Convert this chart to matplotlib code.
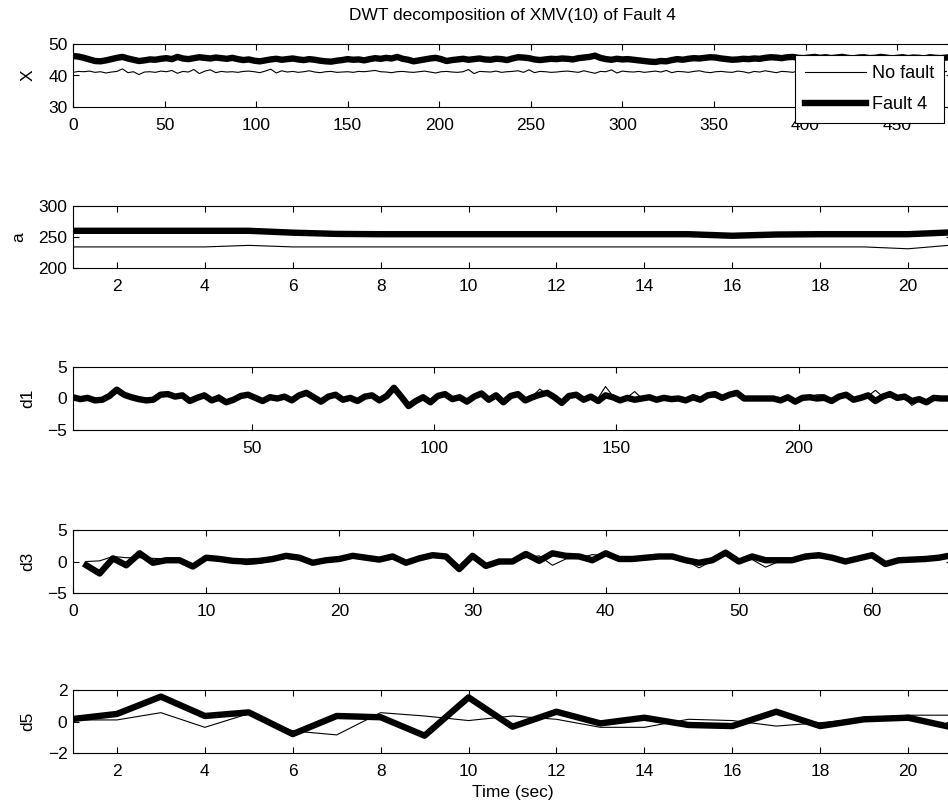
import numpy as np
import matplotlib
matplotlib.use("Agg")
import matplotlib.pyplot as plt

plt.rcParams['font.family'] = ['Liberation Sans', 'DejaVu Sans']
plt.rcParams['font.size'] = 12.5

# ---- signal X (sampled every 3 s) ----
x_nofault = [
    41.0, 41.3, 41.2, 41.4, 41.0, 41.2, 40.8, 41.1, 41.3, 42.1, 40.9, 41.2, 40.3, 41.1, 41.2, 41.0, 41.4, 41.2, 41.6, 40.7,
    41.3, 41.1, 41.9, 40.6, 41.4, 41.8, 40.9, 41.3, 41.1, 41.2, 41.0, 41.3, 41.4, 41.2, 40.9, 41.4, 42.0, 40.8, 41.5, 41.1,
    41.3, 41.0, 41.2, 41.5, 41.1, 40.9, 41.2, 41.3, 41.0, 41.1, 41.2, 41.0, 41.3, 41.2, 41.4, 41.6, 41.2, 41.1, 40.9, 41.2,
    41.3, 41.1, 41.0, 41.2, 41.4, 41.1, 40.8, 41.2, 41.3, 41.1, 41.0, 41.2, 41.9, 40.6, 41.3, 41.2, 41.1, 41.4, 41.0, 41.2,
    41.3, 41.5, 41.0, 41.8, 40.9, 41.3, 41.2, 41.0, 41.1, 41.3, 41.4, 41.2, 41.0, 41.5, 41.1, 40.7, 41.3, 41.2, 41.8, 40.8,
    41.4, 41.2, 41.1, 41.3, 41.0, 41.2, 41.4, 41.1, 41.6, 40.9, 41.3, 41.2, 41.0, 41.3, 41.5, 41.1, 40.9, 41.2, 41.3, 41.1,
    41.0, 41.4, 41.2, 40.8, 41.3, 41.1, 41.5, 41.2, 40.9, 41.3, 41.2, 41.0, 41.4, 41.1, 41.3, 41.2, 41.0, 41.3, 41.1, 41.2,
    41.4, 41.0, 41.2, 41.3, 41.1, 40.9, 41.3, 41.2, 41.0, 41.4, 41.2, 41.1, 41.3, 41.0, 41.2, 41.4, 41.1, 41.2, 41.0, 41.3,
]
x_fault = [
    46.2, 46.0, 45.6, 45.1, 44.6, 44.5, 44.8, 45.2, 45.6, 45.9, 45.4, 45.0, 44.6, 44.8, 45.1, 45.0, 45.3, 45.5, 45.2, 45.9,
    45.4, 45.2, 45.5, 45.8, 45.6, 45.4, 45.7, 45.5, 45.3, 45.6, 45.2, 44.9, 45.1, 44.7, 44.5, 44.8, 45.1, 45.3, 45.0, 45.2,
    45.4, 45.1, 44.9, 45.2, 45.0, 44.7, 44.5, 44.4, 44.7, 44.9, 45.2, 45.0, 45.1, 44.8, 45.2, 45.5, 45.3, 45.6, 45.4, 45.9,
    45.3, 45.0, 44.5, 44.8, 45.1, 45.4, 45.6, 45.2, 44.6, 44.9, 45.1, 45.3, 45.0, 45.2, 45.4, 45.1, 45.0, 45.3, 45.2, 44.9,
    45.4, 45.8, 45.7, 45.5, 45.1, 44.9, 45.1, 45.3, 45.2, 45.4, 45.3, 45.1, 45.5, 45.7, 45.9, 46.3, 45.6, 45.2, 45.0, 45.3,
    45.1, 45.2, 45.0, 44.8, 44.6, 44.4, 44.3, 44.6, 44.5, 44.9, 45.2, 45.0, 45.3, 45.5, 45.4, 45.6, 45.8, 45.7, 45.4, 45.2,
    45.0, 45.1, 45.3, 45.2, 45.4, 45.3, 45.6, 45.8, 45.7, 45.5, 45.8, 45.9, 45.6, 45.5, 45.7, 45.9, 45.6, 45.8, 45.5, 45.7,
    45.9, 45.6, 45.4, 45.7, 45.8, 45.5, 45.6, 45.9, 45.7, 45.4, 45.6, 45.8, 45.5, 45.7, 45.6, 45.4, 45.8, 45.6, 45.5, 45.7,
]

# ---- approximation a (level 5) ----
a_nofault = [234, 234, 234, 234, 236.5, 234, 234, 234, 234, 234, 234,
             234, 234, 234, 234, 234, 234, 234, 234, 231, 237]
a_fault = [260, 260, 260, 260, 260, 257, 255, 254.5, 254.5, 254.5, 254.5,
           254.5, 254.5, 254.5, 254.5, 252, 254, 254.5, 254.5, 254.5, 257.5]

# ---- detail d1 (every other coefficient) ----
d1_nofault = [
    0.1, 0.0, -0.2, 0.1, -0.1, 0.3, 0.9, 0.4, -0.1, -0.3, -0.6, -0.2, 0.3, 0.8, 0.4, 0.2, -0.1, 0.2, 0.1, 0.0,
    0.6, -0.2, 0.1, 0.2, 0.6, 0.0, -0.2, 0.6, 0.1, -0.1, 0.2, 0.3, 0.5, 0.0, -0.3, 0.2, 0.4, 0.1, -0.2, -0.3,
    0.2, 0.3, -0.2, 0.3, 1.3, 0.4, -0.8, -0.2, 0.1, -0.3, 0.2, 0.5, 0.1, 0.3, -0.2, 0.2, 0.4, 0.0, 0.2, -0.3,
    0.2, 0.5, -0.1, 0.4, 1.5, 0.6, 0.3, -0.3, 0.2, 0.4, 0.0, 0.3, 0.1, 1.9, 0.4, -0.1, 0.2, 1.1, 0.0, -0.1,
    0.0, 0.1, -0.2, 0.1, 0.0, 0.6, 0.2, 0.3, 0.2, -0.2, 0.3, 0.5, 0.1, -0.1, 0.0, 0.1, -0.1, 0.0, 0.1, -0.2,
    0.5, 0.3, 0.6, 0.6, -0.1, 0.2, 0.3, 0.1, 0.0, 0.4, 1.3, 0.3, 0.2, 0.4, 0.1, -1.1, -0.4, -0.3, 0.2, 0.1,
    0.0,
]
d1_fault = [
    0.2, -0.1, 0.1, -0.3, -0.2, 0.4, 1.4, 0.6, 0.2, -0.1, -0.3, -0.2, 0.6, 0.7, 0.3, 0.5, -0.4, 0.1, 0.5, -0.3,
    0.1, -0.6, -0.2, 0.4, 0.6, 0.1, -0.4, 0.2, 0.0, 0.3, -0.3, 0.5, 0.9, 0.2, -0.5, 0.3, 0.6, -0.2, 0.1, -0.4,
    0.3, 0.5, -0.3, 0.4, 1.7, 0.3, -1.2, -0.4, 0.2, -0.6, 0.4, 0.7, -0.1, 0.2, -0.5, 0.3, 0.8, -0.2, 0.5, -0.6,
    0.4, 0.7, -0.3, 0.2, 0.6, 0.9, 0.2, -0.7, 0.4, 0.6, -0.2, 0.3, -0.4, 0.5, 0.2, -0.3, 0.1, -0.2, 0.0, 0.2,
    -0.2, 0.1, -0.1, 0.0, -0.3, 0.2, -0.2, 0.5, 0.7, 0.1, 0.6, 0.9, 0.0, 0.0, 0.0, 0.0, 0.0, -0.3, 0.2, -0.5,
    0.1, 0.2, 0.0, 0.1, -0.4, 0.3, 0.6, -0.2, 0.1, 0.5, -0.4, 0.3, 0.7, 0.1, 0.3, -0.4, -0.1, -0.6, 0.1, 0.0,
    0.0,
]

# ---- detail d3 ----
d3_nofault = [
    0.0, 0.1, 0.8, 0.6, 0.6, 0.5, 0.4, 0.3, -0.5, 0.4,
    0.3, 0.0, -0.5, -0.3, 0.2, 0.5, 0.3, -0.2, 0.2, 0.4,
    0.7, 0.5, 0.3, 0.5, -0.1, 0.4, 0.7, 0.5, -0.8, 0.6,
    -0.4, 0.1, 0.0, 0.6, 0.9, -0.6, 0.4, 0.5, 1.1, 0.9,
    0.3, 0.2, 0.4, 0.5, 0.6, 0.2, -1.0, 0.1, 1.0, 0.1,
    0.3, -0.9, 0.0, 0.1, 0.4, 0.6, 0.5, 0.0, 0.3, 0.8,
    -0.6, 0.1, 0.2, 0.3, 0.4, 0.6,
]
d3_fault = [
    -0.6, -1.9, 0.5, -0.6, 1.3, -0.2, 0.2, 0.2, -0.8, 0.6,
    0.4, 0.1, 0.0, 0.1, 0.4, 0.9, 0.6, -0.2, 0.2, 0.4,
    0.9, 0.6, 0.3, 0.8, -0.2, 0.5, 1.0, 0.8, -1.2, 0.9,
    -0.7, 0.0, 0.0, 1.2, 0.1, 1.3, 0.9, 0.8, 0.2, 1.3,
    0.4, 0.4, 0.6, 0.8, 0.8, 0.2, -0.2, 0.2, 1.4, 0.0,
    0.8, 0.2, 0.2, 0.2, 0.8, 1.0, 0.6, 0.0, 0.5, 1.0,
    -0.4, 0.2, 0.3, 0.4, 0.6, 1.0,
]

# ---- detail d5 ----
d5_nofault = [0.1, 0.1, 0.56, -0.37, 0.5, -0.6, -0.85, 0.56, 0.35, 0.06, 0.35,
              0.14, -0.37, -0.37, 0.14, 0.06, -0.29, -0.08, 0.2, 0.4, 0.4]
d5_fault = [0.16, 0.48, 1.58, 0.35, 0.58, -0.8, 0.35, 0.27, -0.9, 1.53, -0.33,
            0.62, -0.12, 0.24, -0.22, -0.29, 0.62, -0.29, 0.14, 0.24, -0.37]

THIN = 0.8
THICK = 4.6

fig = plt.figure(figsize=(9.48, 8.10), dpi=100)
W, H = 948.0, 810.0
left_px, right_px = 73, 952


def make_axes(top_px, bottom_px):
    ax = fig.add_axes([left_px / W, 1 - bottom_px / H,
                       (right_px - left_px) / W, (bottom_px - top_px) / H])
    ax.tick_params(direction='in', length=4, width=0.8, top=True, right=True,
                   labelsize=12.5)
    ax.tick_params(axis='x', pad=8)
    ax.tick_params(axis='y', pad=4)
    for s in ax.spines.values():
        s.set_linewidth(0.8)
    return ax


ax1 = make_axes(44, 107)
t = 3 * np.arange(len(x_nofault))
ax1.plot(t, x_nofault, color='black', lw=THIN, label='No fault')
ax1.plot(3 * np.arange(len(x_fault)), x_fault, color='black', lw=THICK, label='Fault 4')
ax1.set_xlim(0, 480)
ax1.set_ylim(30, 50)
ax1.set_xticks(np.arange(0, 451, 50))
ax1.set_yticks([30, 40, 50])
ax1.set_ylabel('X', labelpad=9)
ax1.set_title('DWT decomposition of XMV(10) of Fault 4', fontsize=12.5, pad=17)
leg = ax1.legend(loc='upper right', bbox_to_anchor=(944 / W, 1 - 55 / H),
                 bbox_transform=fig.transFigure, fancybox=False, framealpha=1,
                 edgecolor='black', handlelength=3.4, fontsize=13,
                 labelspacing=0.8, borderpad=0.55, handletextpad=0.3,
                 borderaxespad=0)
leg.get_frame().set_linewidth(0.8)

ax2 = make_axes(206, 268)
k = 1 + np.arange(len(a_nofault))
ax2.plot(k, a_nofault, color='black', lw=THIN)
ax2.plot(1 + np.arange(len(a_fault)), a_fault, color='black', lw=THICK)
ax2.set_xlim(1, 21)
ax2.set_ylim(200, 300)
ax2.set_xticks(np.arange(2, 21, 2))
ax2.set_yticks([200, 250, 300])
ax2.set_ylabel('a', labelpad=9)

ax3 = make_axes(367, 430)
ax3.plot(1 + 2 * np.arange(len(d1_nofault)), d1_nofault, color='black', lw=THIN)
ax3.plot(1 + 2 * np.arange(len(d1_fault)), d1_fault, color='black', lw=THICK)
ax3.set_xlim(1, 242)
ax3.set_ylim(-5, 5)
ax3.set_xticks([50, 100, 150, 200])
ax3.set_yticks([-5, 0, 5])
ax3.set_ylabel('d1', labelpad=9)

ax4 = make_axes(530, 593)
ax4.plot(1 + np.arange(len(d3_nofault)), d3_nofault, color='black', lw=THIN)
ax4.plot(1 + np.arange(len(d3_fault)), d3_fault, color='black', lw=THICK)
ax4.set_xlim(0, 66)
ax4.set_ylim(-5, 5)
ax4.set_xticks(np.arange(0, 61, 10))
ax4.set_yticks([-5, 0, 5])
ax4.set_ylabel('d3', labelpad=9)

ax5 = make_axes(690, 753)
ax5.plot(1 + np.arange(len(d5_nofault)), d5_nofault, color='black', lw=THIN)
ax5.plot(1 + np.arange(len(d5_fault)), d5_fault, color='black', lw=THICK)
ax5.set_xlim(1, 21)
ax5.set_ylim(-2, 2)
ax5.set_xticks(np.arange(2, 21, 2))
ax5.set_yticks([-2, 0, 2])
ax5.set_ylabel('d5', labelpad=9)
ax5.set_xlabel('Time (sec)', labelpad=4)

fig.savefig('out.png', dpi=100)
